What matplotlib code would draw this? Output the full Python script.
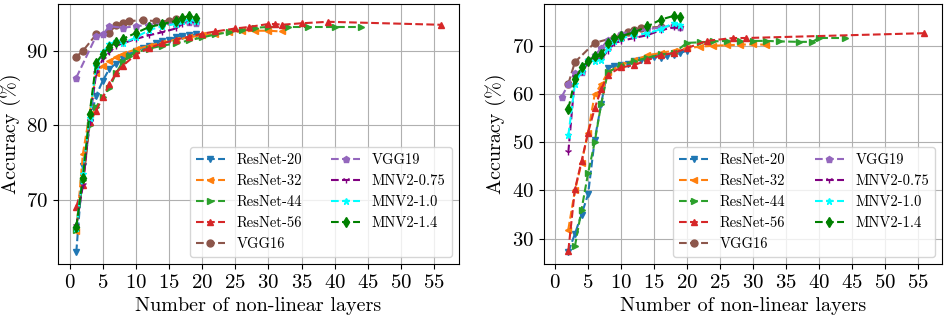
import matplotlib
matplotlib.use("Agg")
import matplotlib.pyplot as plt

plt.rcParams["font.family"] = "serif"
plt.rcParams["font.serif"] = ["cmr10", "DejaVu Serif"]
plt.rcParams["mathtext.fontset"] = "cm"
plt.rcParams["axes.formatter.use_mathtext"] = True

labels = ["ResNet-20", "ResNet-32", "ResNet-44", "ResNet-56", "VGG16",
          "VGG19", "MNV2-0.75", "MNV2-1.0", "MNV2-1.4"]
colors = ["tab:blue", "tab:orange", "tab:green", "tab:red", "tab:brown",
          "tab:purple", "purple", "cyan", "green"]
markers = ["v", "<", ">", "^", "o", "p", "1", "*", "d"]

# left panel
l_r20_x = [1, 2, 3, 4, 5, 6, 7, 8, 9, 10, 11, 12, 13, 14, 15, 16, 17, 18, 19]
l_r20_y = [63.0, 74.5, 80.5, 84.0, 86.0, 87.6, 88.3, 88.9, 89.5, 90.0, 90.4, 90.7, 91.1, 91.3, 91.5, 91.8, 92.0, 92.1, 92.2]
l_r32_x = [1, 2, 3, 4, 5, 6, 7, 8, 10, 12, 14, 16, 18, 20, 22, 24, 26, 28, 30, 32]
l_r32_y = [65.8, 76.2, 81.5, 87.0, 88.0, 88.6, 89.2, 89.6, 90.2, 90.7, 91.1, 91.5, 91.8, 92.1, 92.3, 92.5, 92.6, 92.7, 92.7, 92.6]
l_r44_x = [1, 2, 3, 4, 5, 6, 7, 8, 9, 10, 12, 14, 16, 18, 20, 22, 24, 26, 28, 30, 33, 36, 40, 44]
l_r44_y = [66.0, 72.7, 80.0, 82.5, 83.8, 85.0, 87.0, 88.5, 89.3, 89.8, 90.3, 90.7, 91.0, 91.4, 91.8, 92.2, 92.5, 92.8, 93.1, 93.2, 93.2, 93.2, 93.2, 93.2]
l_r56_x = [1, 2, 3, 4, 5, 6, 7, 8, 10, 12, 14, 16, 18, 20, 22, 25, 27, 30, 31, 32, 35, 39, 56]
l_r56_y = [69.1, 72.0, 80.5, 82.0, 83.8, 85.5, 87.0, 88.0, 89.5, 90.4, 91.0, 91.5, 91.9, 92.3, 92.6, 93.0, 93.2, 93.6, 93.6, 93.5, 93.7, 93.9, 93.5]
l_vgg16_x = [1, 2, 4, 6, 7, 8, 9, 11, 13, 15, 16]
l_vgg16_y = [89.2, 90.0, 92.2, 92.4, 93.5, 93.8, 94.0, 94.1, 94.0, 94.0, 94.3]
l_vgg19_x = [1, 4, 5, 6, 8, 10, 12, 14, 16, 18, 19]
l_vgg19_y = [86.4, 92.0, 92.2, 93.3, 93.1, 93.3, 93.5, 93.6, 93.7, 93.9, 93.8]
l_mnv_x = [1, 2, 3, 4, 5, 6, 7, 8, 10, 12, 14, 16, 17, 18, 19]
l_mnv075_y = [66.5, 72.0, 80.5, 87.0, 88.9, 89.8, 90.7, 91.0, 91.6, 92.1, 92.5, 93.0, 93.6, 93.9, 93.9]
l_mnv10_y = [66.2, 73.5, 81.0, 88.0, 89.8, 90.9, 91.3, 91.0, 91.8, 92.8, 93.3, 93.6, 94.0, 94.2, 94.0]
l_mnv14_y = [66.4, 73.0, 81.5, 88.4, 89.6, 90.5, 91.2, 91.6, 92.4, 93.2, 93.6, 94.0, 94.4, 94.7, 94.4]

# right panel
r_r20_x = [2, 3, 4, 5, 6, 7, 8, 9, 10, 11, 12, 13, 14, 15, 16, 17, 18, 19, 20]
r_r20_y = [27.2, 31.0, 35.0, 39.2, 50.5, 58.0, 65.4, 65.8, 66.0, 66.3, 66.8, 67.0, 67.4, 67.6, 67.5, 67.8, 68.0, 68.5, 69.0]
r_r32_x = [2, 3, 4, 5, 6, 7, 8, 10, 12, 14, 16, 18, 20, 22, 24, 26, 28, 30, 32]
r_r32_y = [31.9, 40.0, 45.7, 52.0, 59.9, 62.0, 64.5, 66.0, 67.0, 68.0, 68.5, 69.0, 69.5, 69.8, 70.0, 70.1, 70.2, 70.3, 70.2]
r_r44_x = [3, 4, 5, 6, 7, 8, 10, 12, 14, 16, 18, 20, 22, 24, 26, 28, 30, 32, 34, 37, 39, 40, 44]
r_r44_y = [28.4, 36.0, 43.6, 50.0, 58.0, 64.5, 66.0, 66.8, 67.5, 68.2, 68.5, 70.6, 70.7, 70.9, 71.0, 71.0, 71.0, 71.0, 70.9, 70.8, 70.8, 71.6, 71.6]
r_r56_x = [2, 3, 4, 5, 6, 7, 8, 10, 12, 14, 16, 18, 20, 23, 27, 29, 56]
r_r56_y = [27.5, 40.2, 46.0, 52.0, 57.0, 61.0, 64.0, 65.5, 66.0, 67.0, 68.0, 68.5, 69.5, 71.0, 71.6, 71.6, 72.6]
r_vgg16_x = [2, 3, 6, 9, 10, 11, 12, 13, 16]
r_vgg16_y = [62.1, 66.6, 70.6, 71.7, 72.2, 72.8, 73.2, 73.7, 73.9]
r_vgg19_x = [1, 2, 3, 4, 5, 6, 7, 8, 10, 12, 14, 16, 18, 19]
r_vgg19_y = [59.4, 62.0, 64.3, 64.6, 67.0, 68.0, 69.5, 71.2, 72.5, 73.0, 73.4, 73.8, 74.2, 73.9]
r_mnv_x = [2, 3, 4, 5, 6, 7, 8, 9, 10, 12, 14, 16, 18, 19]
r_mnv075_y = [47.9, 63.5, 64.5, 66.5, 67.0, 67.2, 69.0, 70.5, 71.0, 71.6, 72.2, 73.2, 73.8, 73.6]
r_mnv10_y = [51.4, 62.0, 64.8, 67.0, 66.8, 67.0, 69.5, 71.0, 71.5, 72.2, 72.6, 73.4, 74.7, 74.3]
r_mnv14_y = [56.9, 63.0, 65.5, 66.8, 67.8, 68.2, 70.5, 71.5, 72.0, 72.8, 74.0, 75.4, 76.2, 75.9]

left_series = [(l_r20_x, l_r20_y), (l_r32_x, l_r32_y), (l_r44_x, l_r44_y), (l_r56_x, l_r56_y),
               (l_vgg16_x, l_vgg16_y), (l_vgg19_x, l_vgg19_y), (l_mnv_x, l_mnv075_y),
               (l_mnv_x, l_mnv10_y), (l_mnv_x, l_mnv14_y)]
right_series = [(r_r20_x, r_r20_y), (r_r32_x, r_r32_y), (r_r44_x, r_r44_y), (r_r56_x, r_r56_y),
                (r_vgg16_x, r_vgg16_y), (r_vgg19_x, r_vgg19_y), (r_mnv_x, r_mnv075_y),
                (r_mnv_x, r_mnv10_y), (r_mnv_x, r_mnv14_y)]

fig = plt.figure(figsize=(9.52, 3.2), dpi=100)
ax1 = fig.add_axes([0.061, 0.175, 0.421, 0.8125])
ax2 = fig.add_axes([0.571, 0.175, 0.419, 0.8125])

for ax, series in [(ax1, left_series), (ax2, right_series)]:
    for (xs, ys), lab, c, m in zip(series, labels, colors, markers):
        ax.plot(xs, ys, linestyle="--", marker=m, color=c, label=lab,
                markersize=5, linewidth=1.5)
    ax.set_xticks(range(0, 60, 5))
    ax.grid(True, color="#b0b0b0", linewidth=0.8)
    ax.set_axisbelow(True)
    ax.tick_params(labelsize=15)
    ax.set_xlabel("Number of non-linear layers", fontsize=14.5)
    ax.set_ylabel("Accuracy (%)", fontsize=14.5)
    ax.legend(loc="lower right", ncol=2, fontsize=10.5)

fig.savefig("out.png", dpi=100)
